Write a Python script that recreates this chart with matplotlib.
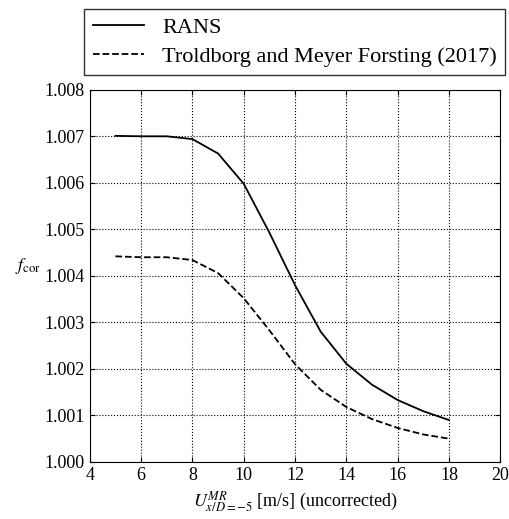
import matplotlib
matplotlib.use("Agg")
import matplotlib.pyplot as plt

plt.rcParams['font.family'] = ['Liberation Serif']
plt.rcParams['mathtext.fontset'] = 'stix'

x = [5, 6, 7, 8, 9, 10, 11, 12, 13, 14, 15, 16, 17, 18]
rans = [1.00701, 1.00700, 1.00700, 1.00694, 1.00663, 1.00598, 1.00493, 1.00380,
        1.00280, 1.00211, 1.00166, 1.00133, 1.00109, 1.00090]
tmf = [1.00442, 1.00440, 1.00440, 1.00434, 1.00406, 1.00352, 1.00283, 1.00210,
       1.00155, 1.00118, 1.00092, 1.00073, 1.00059, 1.00050]

fig = plt.figure(figsize=(5.10, 5.19), dpi=100)
ax = fig.add_axes([0.176, 0.11, 0.805, 0.717])
ax.plot(x, rans, 'k-', lw=1.3, label='RANS')
ax.plot(x, tmf, 'k--', lw=1.3, label='Troldborg and Meyer Forsting (2017)')
ax.set_xlim(4, 20)
ax.set_ylim(1.000, 1.008)
ax.set_xticks(range(4, 21, 2))
ax.set_yticks([1.000 + 0.001*i for i in range(9)])
ax.yaxis.set_major_formatter(matplotlib.ticker.FormatStrFormatter('%.3f'))
ax.grid(True, linestyle=':', color='k', lw=0.8)
ax.tick_params(direction='in', top=True, right=True, labelsize=13)
ax.set_xlabel(r'$U_{x/D=-5}^{MR}$ [m/s] (uncorrected)', fontsize=13)
ax.set_ylabel(r'$f_{\rm cor}$', fontsize=13, rotation=0, labelpad=12)
fig.legend(loc='upper left', bbox_to_anchor=(0.165, 0.84, 0.825, 0.143), mode='expand',
           fontsize=16, fancybox=False, edgecolor='k', borderaxespad=0, handlelength=2.3,
           labelspacing=0.35)
fig.savefig('out.png', dpi=100)
